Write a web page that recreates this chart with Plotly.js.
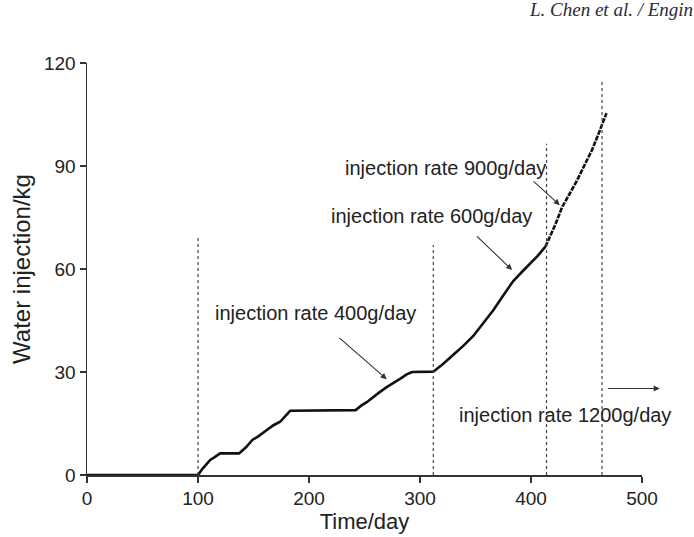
<!DOCTYPE html>
<html>
<head>
<meta charset="utf-8">
<script src="https://cdn.plot.ly/plotly-3.0.1.min.js"></script>
<style>html,body{margin:0;padding:0;background:#fff;}#chart{width:694px;height:537px;}</style>
</head>
<body>
<div id="chart"></div>
<script>
// Cumulative water injection, part 1 (0 - 413 days)
var days1 = [0, 100, 104, 108, 111, 115, 120, 137, 143, 149, 155, 162, 168, 174, 179, 183,
             242, 247, 252, 258, 264, 270, 276, 282, 288, 293, 312,
             321, 330, 339, 348, 357, 366, 375, 384, 392, 399, 406, 413];
var water1 = [0, 0, 1.8, 3.2, 4.4, 5.2, 6.3, 6.3, 8.0, 10.2, 11.4, 13.1, 14.5, 15.5, 17.3, 18.7,
              18.9, 20.2, 21.2, 22.8, 24.2, 25.6, 26.7, 28.0, 29.3, 30.0, 30.1,
              32.4, 35.0, 37.6, 40.5, 44.2, 48.0, 52.3, 56.5, 59.2, 61.5, 63.8, 66.5];
// part 2 (413 - 468 days)
var days2 = [413, 418, 422, 428, 435, 441, 446, 451, 455, 461, 465, 468];
var water2 = [66.5, 70.0, 73.0, 78.0, 82.0, 85.5, 88.8, 92.0, 94.7, 99.5, 102.8, 105.4];

// dotted vertical markers
var vlineDay = [100, 312, 414, 464];
var vlineTop = [69, 67, 96.5, 115];

// annotation labels
var labelText = ["injection rate 400g/day", "injection rate 600g/day", "injection rate 900g/day", "injection rate 1200g/day"];
var labelDay = [206, 310.5, 322.7, 430.7];
var labelVal = [47.2, 75.5, 89.5, 17.5];
// arrows: tail -> head
var arrowTailDay = [226, 350, 401, 468];
var arrowTailVal = [40.3, 69.9, 85.9, 25.2];
var arrowHeadDay = [270, 383, 426, 516];
var arrowHeadVal = [27.9, 59.7, 78.6, 25.2];

var headerText = "L. Chen et al. / Engin";

var FONT = "Liberation Sans, Arial, sans-serif";

var traces = [
  {x: days1, y: water1, type: "scatter", mode: "lines",
   line: {color: "#111", width: 2.6}, hoverinfo: "skip", showlegend: false},
  {x: days2, y: water2, type: "scatter", mode: "lines",
   line: {color: "#111", width: 2.6, dash: "5px,1.2px"}, hoverinfo: "skip", showlegend: false}
];

var shapes = vlineDay.map(function(d, i){
  return {type: "line", xref: "x", yref: "y", x0: d, x1: d, y0: 0, y1: vlineTop[i],
          line: {color: "#444", width: 1.2, dash: "dot"}};
});

var L = 86.5, R = 52, T = 63, B = 62, W = 694, H = 537;
var pw = W - L - R, ph = H - T - B;

var annotations = [];
labelText.forEach(function(t, i){
  annotations.push({x: labelDay[i], y: labelVal[i], xref: "x", yref: "y", text: t, showarrow: false,
    font: {family: FONT, size: 20, color: "#222"}, xanchor: "center", yanchor: "middle"});
});
arrowHeadDay.forEach(function(d, i){
  annotations.push({x: d, y: arrowHeadVal[i], xref: "x", yref: "y",
    ax: arrowTailDay[i], ay: arrowTailVal[i], axref: "x", ayref: "y",
    text: "", showarrow: true, arrowhead: 2, arrowsize: 1.1, arrowwidth: 1.1, arrowcolor: "#333"});
});
annotations.push({x: (527 - L) / pw, y: (H - B - 9) / ph, xref: "paper", yref: "paper",
  text: "<i>" + headerText + "</i>",
  showarrow: false, xanchor: "left", yanchor: "middle",
  font: {family: "Liberation Serif, Times New Roman, serif", size: 19, color: "#2a2a3a"}});

var axisCommon = {
  showgrid: false, zeroline: false, showline: true, linecolor: "#333", linewidth: 1.5,
  ticks: "outside", ticklen: 6, tickwidth: 1.5, tickcolor: "#333",
  tickfont: {family: FONT, size: 19, color: "#222"}, mirror: false
};

var layout = {
  width: W, height: H,
  margin: {l: L, r: R, t: T, b: B, pad: 0},
  paper_bgcolor: "#fff", plot_bgcolor: "#fff",
  xaxis: Object.assign({}, axisCommon, {range: [0, 500], tickvals: [0, 100, 200, 300, 400, 500],
    title: {text: "Time/day", font: {family: FONT, size: 22, color: "#222"}, standoff: 4}}),
  yaxis: Object.assign({}, axisCommon, {range: [0, 120], tickvals: [0, 30, 60, 90, 120],
    title: {text: "Water injection/kg", font: {family: FONT, size: 24, color: "#222"}, standoff: 6}}),
  shapes: shapes,
  annotations: annotations,
  showlegend: false
};

Plotly.newPlot("chart", traces, layout, {staticPlot: true, displayModeBar: false});
</script>
</body>
</html>
